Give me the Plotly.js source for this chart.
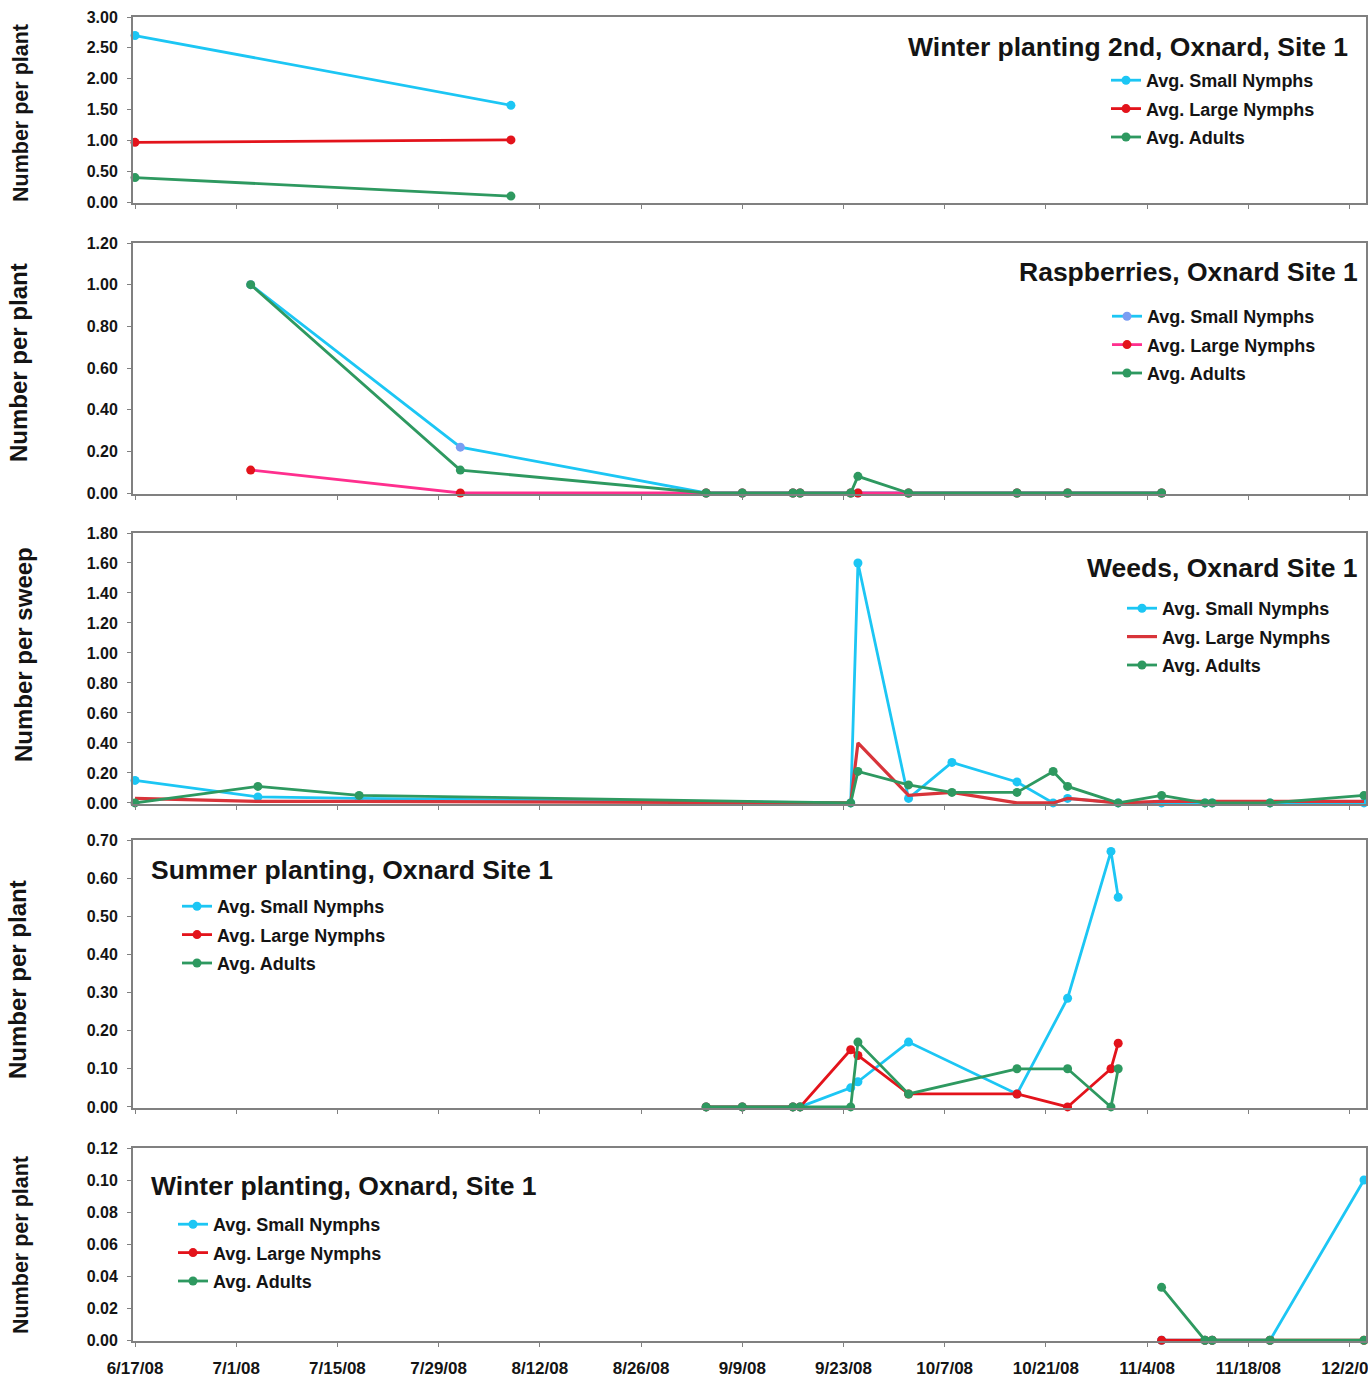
<!DOCTYPE html>
<html>
<head>
<meta charset="utf-8">
<script src="https://cdn.plot.ly/plotly-3.0.1.min.js"></script>
<style>
  html, body { margin: 0; padding: 0; background: #ffffff; }
  #chart { width: 1368px; height: 1380px; }
</style>
</head>
<body>
<div id="chart"></div>
<script>
// ---------------- DATA ----------------
const seriesNames = ['Avg. Small Nymphs', 'Avg. Large Nymphs', 'Avg. Adults'];

// Panel 1: Winter planting 2nd, Oxnard, Site 1
const wp2Dates  = ['2008-06-17', '2008-08-08'];
const wp2Small  = [2.70, 1.57];
const wp2Large  = [0.97, 1.01];
const wp2Adults = [0.40, 0.10];

// Panel 2: Raspberries, Oxnard Site 1
const raspDates  = ['2008-07-03', '2008-08-01', '2008-09-04', '2008-09-09', '2008-09-16', '2008-09-17',
                    '2008-09-24', '2008-09-25', '2008-10-02', '2008-10-17', '2008-10-24', '2008-11-06'];
const raspSmall  = [1.00, 0.22, 0.00, 0.00, 0.00, 0.00, 0.00, 0.00, 0.00, 0.00, 0.00, 0.00];
const raspLarge  = [0.11, 0.00, 0.00, 0.00, 0.00, 0.00, 0.00, 0.00, 0.00, 0.00, 0.00, 0.00];
const raspAdults = [1.00, 0.11, 0.00, 0.00, 0.00, 0.00, 0.00, 0.08, 0.00, 0.00, 0.00, 0.00];

// Panel 3: Weeds, Oxnard Site 1 (number per sweep)
const weedDates  = ['2008-06-17', '2008-07-04', '2008-07-18', '2008-09-24', '2008-09-25', '2008-10-02',
                    '2008-10-08', '2008-10-17', '2008-10-22', '2008-10-24', '2008-10-31', '2008-11-06',
                    '2008-11-12', '2008-11-13', '2008-11-21', '2008-12-04'];
const weedSmall  = [0.15, 0.04, 0.03, 0.00, 1.60, 0.03, 0.27, 0.14, 0.00, 0.03, 0.00, 0.00, 0.00, 0.00, 0.00, 0.00];
const weedLarge  = [0.03, 0.01, 0.01, 0.00, 0.40, 0.05, 0.07, 0.00, 0.00, 0.03, 0.00, 0.01, 0.01, 0.01, 0.01, 0.01];
const weedAdults = [0.00, 0.11, 0.05, 0.00, 0.21, 0.12, 0.07, 0.07, 0.21, 0.11, 0.00, 0.05, 0.00, 0.00, 0.00, 0.05];

// Panel 4: Summer planting, Oxnard Site 1
const sumDates  = ['2008-09-04', '2008-09-09', '2008-09-16', '2008-09-17', '2008-09-24', '2008-09-25',
                   '2008-10-02', '2008-10-17', '2008-10-24', '2008-10-30', '2008-10-31'];
const sumSmall  = [0.00, 0.00, 0.00, 0.00, 0.05, 0.066, 0.17, 0.034, 0.285, 0.67, 0.55];
const sumLarge  = [0.00, 0.00, 0.00, 0.00, 0.15, 0.135, 0.034, 0.034, 0.00, 0.10, 0.167];
const sumAdults = [0.00, 0.00, 0.00, 0.00, 0.00, 0.17, 0.034, 0.10, 0.10, 0.00, 0.10];

// Panel 5: Winter planting, Oxnard, Site 1
const winDates  = ['2008-11-06', '2008-11-12', '2008-11-13', '2008-11-21', '2008-12-04'];
const winSmall  = [0.00, 0.00, 0.00, 0.00, 0.10];
const winLarge  = [0.00, 0.00, 0.00, 0.00, 0.00];
const winAdults = [0.033, 0.00, 0.00, 0.00, 0.00];

const panelTitles = ['Winter planting 2nd, Oxnard, Site 1', 'Raspberries, Oxnard Site 1',
                     'Weeds, Oxnard Site 1', 'Summer planting, Oxnard Site 1', 'Winter planting, Oxnard, Site 1'];
const yTitles = ['Number per plant', 'Number per plant', 'Number per sweep', 'Number per plant', 'Number per plant'];
const yMax   = [3.0, 1.2, 1.8, 0.7, 0.12];
const yStep  = [0.5, 0.2, 0.2, 0.1, 0.02];

// ---------------- STYLE ----------------
const W = 1368, H = 1380;
const FONT = 'Liberation Sans, Arial, sans-serif';
const TXT = '#141414';
const CYAN = '#1cc6f4', RED = '#e3131b', GREEN = '#2e9960', PINK = '#ff2f8e', PERI = '#7a9df2', WRED = '#d8343a';

const px = v => v / W;
const py = v => 1 - v / H;

// panel pixel geometry: [top, bottom]
const panelPx = [[17, 203], [243, 494], [533, 804], [840, 1108], [1148, 1341]];
const xDomain = [px(133), px(1366)];
const xRange = ['2008-06-16 17:20', '2008-12-04 06:40'];

const panels = [
  {dates: wp2Dates,  s: wp2Small,  l: wp2Large,  a: wp2Adults},
  {dates: raspDates, s: raspSmall, l: raspLarge, a: raspAdults},
  {dates: weedDates, s: weedSmall, l: weedLarge, a: weedAdults},
  {dates: sumDates,  s: sumSmall,  l: sumLarge,  a: sumAdults},
  {dates: winDates,  s: winSmall,  l: winLarge,  a: winAdults}
];

const LW = 2.8, MS = 9;
const traces = [];
panels.forEach((p, i) => {
  const sfx = i === 0 ? '' : String(i + 1);
  const leg = 'legend' + sfx;
  const common = {xaxis: 'x' + sfx, yaxis: 'y' + sfx, legend: leg, cliponaxis: false, hoverinfo: 'x+y'};
  traces.push(Object.assign({}, common, {
    type: 'scatter', mode: 'lines+markers', name: seriesNames[0], x: p.dates, y: p.s,
    legendgroup: 'g' + i + 'a',
    line: {color: CYAN, width: LW},
    marker: {color: i === 1 ? PERI : CYAN, size: MS, symbol: 'circle'}
  }));
  const largeTrace = Object.assign({}, common, {
    type: 'scatter', name: seriesNames[1], x: p.dates, y: p.l, legendgroup: 'g' + i + 'b'
  });
  if (i === 2) {
    largeTrace.mode = 'lines';
    largeTrace.line = {color: WRED, width: 3.2};
  } else {
    largeTrace.mode = 'lines+markers';
    largeTrace.line = {color: i === 1 ? PINK : RED, width: LW};
    largeTrace.marker = {color: RED, size: MS, symbol: 'circle'};
  }
  traces.push(largeTrace);
  traces.push(Object.assign({}, common, {
    type: 'scatter', mode: 'lines+markers', name: seriesNames[2], x: p.dates, y: p.a,
    legendgroup: 'g' + i + 'c',
    line: {color: GREEN, width: LW},
    marker: {color: GREEN, size: MS, symbol: 'circle'}
  }));
});

const layout = {
  width: W, height: H, autosize: false,
  margin: {l: 0, r: 0, t: 0, b: 0, pad: 0},
  paper_bgcolor: '#ffffff', plot_bgcolor: '#ffffff',
  font: {family: FONT, color: TXT},
  showlegend: true,
  annotations: [], shapes: []
};

// legends: [left px, top px]
const legendPos = [[1106, 62], [1107, 298], [1122, 590], [177, 888], [173, 1206]];

panels.forEach((p, i) => {
  const sfx = i === 0 ? '' : String(i + 1);
  const [top, bot] = panelPx[i];
  layout['xaxis' + sfx] = {
    type: 'date', domain: xDomain, range: xRange, anchor: 'y' + sfx,
    tick0: '2008-06-17', dtick: 14 * 86400000, tickformat: '%-m/%-d/%y',
    showticklabels: i === 4, ticklabeloverflow: 'allow',
    ticks: 'outside', ticklen: 4, tickwidth: 1, tickcolor: '#808080',
    ticklabelstandoff: 7,
    tickfont: {family: FONT, size: 17, color: TXT, weight: 'bold'},
    showline: true, linecolor: '#808080', linewidth: 2, mirror: true,
    showgrid: false, zeroline: false, fixedrange: true
  };
  layout['yaxis' + sfx] = {
    domain: [py(bot), py(top)], anchor: 'x' + sfx,
    range: [-yMax[i] * 0.004, yMax[i]], tick0: 0, dtick: yStep[i], tickformat: '.2f',
    ticks: 'outside', ticklen: 4, tickwidth: 1, tickcolor: '#808080',
    ticklabelstandoff: 6,
    tickfont: {family: FONT, size: 16, color: TXT, weight: 'bold'},
    showline: true, linecolor: '#808080', linewidth: 2, mirror: true,
    showgrid: false, zeroline: false, fixedrange: true
  };
  const [lx, ly] = legendPos[i];
  layout['legend' + sfx] = {
    x: px(lx), y: py(ly), xanchor: 'left', yanchor: 'top', xref: 'paper', yref: 'paper',
    bgcolor: 'rgba(0,0,0,0)', borderwidth: 0,
    traceorder: 'grouped', tracegroupgap: 2, itemwidth: 30,
    font: {family: FONT, size: 18, color: TXT, weight: 'bold'}
  };
});

// panel titles
const titlePos = [
  {x: 1350, y: 47, anchor: 'right'},
  {x: 1360, y: 272, anchor: 'right'},
  {x: 1360, y: 568, anchor: 'right'},
  {x: 149, y: 870, anchor: 'left'},
  {x: 149, y: 1186, anchor: 'left'}
];
panelTitles.forEach((t, i) => {
  layout.annotations.push({
    text: t, xref: 'paper', yref: 'paper', x: px(titlePos[i].x), y: py(titlePos[i].y),
    xanchor: titlePos[i].anchor, yanchor: 'middle', showarrow: false,
    font: {family: FONT, size: 26.5, color: TXT, weight: 'bold'}
  });
});

// y-axis titles
const yTitlePos = [[21, 113, 21.5], [19, 363, 24], [23, 655, 24], [17, 980, 24], [21, 1245, 21.5]];
yTitles.forEach((t, i) => {
  layout.annotations.push({
    text: t, xref: 'paper', yref: 'paper', x: px(yTitlePos[i][0]), y: py(yTitlePos[i][1]),
    xanchor: 'center', yanchor: 'middle', textangle: -90, showarrow: false,
    font: {family: FONT, size: yTitlePos[i][2], color: TXT, weight: 'bold'}
  });
});

Plotly.newPlot('chart', traces, layout, {staticPlot: true, displayModeBar: false});
</script>
</body>
</html>
